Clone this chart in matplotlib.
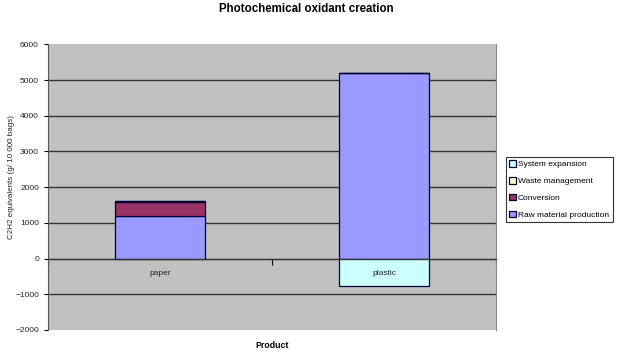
import matplotlib
matplotlib.use("Agg")
import matplotlib.pyplot as plt
import numpy as np

plt.rcParams['font.family'] = ['Liberation Sans', 'DejaVu Sans']

categories = ["paper", "plastic"]
raw_material = [1190, 5195]
conversion = [400, 0]
waste_management = [10, 10]
system_expansion = [0, -780]

series_names = ["Raw material production", "Conversion", "Waste management", "System expansion"]
colors = ["#9999FF", "#993366", "#FFFFCC", "#CCFFFF"]
yticks = list(range(-2000, 6001, 1000))

fig = plt.figure(figsize=(6.21, 3.53), dpi=100)
ax = fig.add_axes([48/621, 1-330/353, 448/621, (330-44.3)/353])
ax.set_facecolor("#C0C0C0")

x = np.arange(len(categories))
w = 0.4
pos_bottom = np.zeros(len(categories))
neg_bottom = np.zeros(len(categories))
handles = []
for name, vals, c in zip(series_names, [raw_material, conversion, waste_management, system_expansion], colors):
    vals = np.array(vals, dtype=float)
    bottoms = np.where(vals >= 0, pos_bottom, neg_bottom)
    h = ax.bar(x, vals, w, bottom=bottoms, color=c, edgecolor="#000033", linewidth=0.9, zorder=2, label=name)
    handles.append(h)
    pos_bottom += np.where(vals >= 0, vals, 0)
    neg_bottom += np.where(vals < 0, vals, 0)

ax.set_ylim(-2000, 6000)
ax.set_xlim(-0.5, 1.5)
ax.set_yticks(yticks)
for yv in yticks[1:-1]:
    ax.axhline(yv, color="#333333", linewidth=1.0, zorder=1)
ax.tick_params(axis='y', labelsize=6, length=3, colors="#000000")
for lbl in ax.get_yticklabels():
    lbl.set_color("#222222")

ax.spines['bottom'].set_position(('data', 0))
ax.spines['bottom'].set_color("#333333")
ax.spines['top'].set_visible(False)
ax.spines['right'].set_color("#888888")
ax.spines['left'].set_color("#555555")
ax.set_xticks([-0.5, 0.5, 1.5])
ax.set_xticklabels([])
ax.tick_params(axis='x', which='major', length=4, direction='out')

for xi, name in zip(x, categories):
    ax.annotate(name, xy=(xi, 0), xytext=(0, -11), textcoords='offset points',
                ha='center', va='center', fontsize=6, color="#222222", zorder=5)

fig.text(12/621, 1-177/353, "C2H2 equivalents (g/ 10 000 bags)", rotation=90,
         ha='center', va='center', fontsize=5.8, color="#222222")
fig.text(272/621, 1-346/353, "Product", ha='center', va='center', fontsize=6.3, fontweight='bold')
fig.text(306/621, 1-9/353, "Photochemical oxidant creation", ha='center', va='center', fontsize=8.3, fontweight='bold')

leg = fig.legend(handles[::-1], series_names[::-1], loc='upper left',
                 bbox_to_anchor=(506/621, 1-157/353), fontsize=6, frameon=True,
                 fancybox=False, edgecolor="#000000", handlelength=0.8, handleheight=0.8,
                 handletextpad=0.25, borderpad=0.4, labelspacing=1.05, borderaxespad=0)
leg.get_frame().set_linewidth(0.8)

fig.savefig("out.png", dpi=100)
